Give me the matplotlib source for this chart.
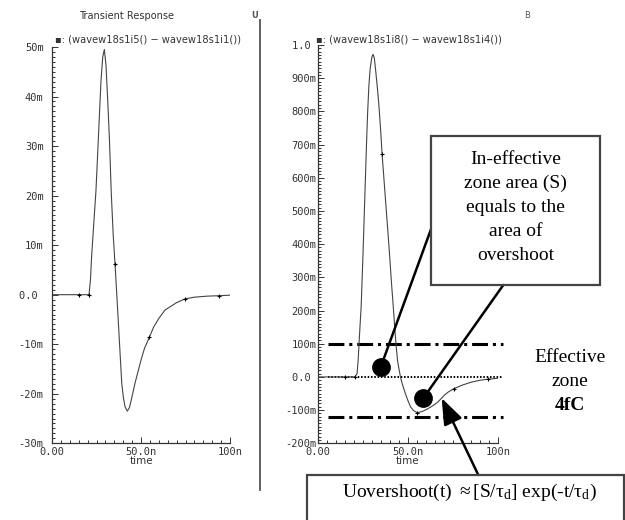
import matplotlib.pyplot as plt
import matplotlib.transforms as mtransforms
import numpy as np
from matplotlib.patches import Rectangle
from matplotlib.lines import Line2D
from matplotlib.ticker import MultipleLocator

# values: time in ns, signal in milli-units
left_t = [0, 15, 20.8, 21.6, 22.3, 23.4, 24.7, 25.6, 26.6, 27.5, 28.5, 29.4, 30.3, 31.3,
          32.3, 33.3, 34.4, 35.4, 36.4, 37.5, 38.5, 39.2, 40, 41, 42.3, 43.5, 44.5,
          45.5, 46.6, 50, 52, 54.7, 57, 60, 63.5, 70, 74.7, 80, 87, 94, 100]
left_v = [0, 0, 0, 3, 8, 14, 21, 28, 36, 43, 48, 49.5, 46.5, 39.3,
          31, 20.5, 12, 6.2, 0, -7, -13.5, -17.9, -20.5, -22.6, -23.5, -22.8, -21.3,
          -19.7, -17.9, -13.2, -10.8, -8.6, -6.6, -4.8, -3.1, -1.6, -0.85, -0.5, -0.3, -0.2, -0.1]

right_t = [0, 15, 20.5, 21.7, 22.3, 23, 24, 25, 26, 27, 27.6, 28.3, 29, 30, 30.6, 31.3,
           32, 33, 33.7, 34.6, 35.6, 37, 38, 39, 40, 40.7, 41.5, 42.5, 43.3, 44.3, 45.8,
           46.5, 47.5, 48.6, 50, 51.4, 53, 55.1, 58, 61, 64, 66.3, 68.7, 70, 72.5, 75.3,
           80, 85, 90, 94.2, 100]
right_v = [0, 0, 0, 10, 50, 120, 215, 370, 540, 710, 800, 880, 930, 965, 972, 960,
           925, 870, 827, 760, 672, 570, 497, 425, 350, 292, 235, 160, 100, 45, 0,
           -15, -33, -51, -72, -90, -101, -108, -104, -96, -86, -77, -64, -56, -45, -36,
           -25, -16, -10, -7, -4]

left_marks = [15, 20.8, 35.4, 54.7, 74.7, 94]
right_marks = [15, 20.5, 35.6, 55.1, 75.3, 94.2]

x_ticks = [0, 50, 100]
x_labels = ["0.00", "50.0n", "100n"]
left_yticks = [-30, -20, -10, 0, 10, 20, 30, 40, 50]
left_ylabels = ["-30m", "-20m", "-10m", "0.0 ", "10m", "20m", "30m", "40m", "50m"]
right_yticks = [-200, -100, 0, 100, 200, 300, 400, 500, 600, 700, 800, 900, 1000]
right_ylabels = ["-200m", "-100m", "0.0 ", "100m", "200m", "300m", "400m", "500m",
                 "600m", "700m", "800m", "900m", "1.0 "]

zone_levels = [100, -122]
circle_t = [34.8, 58.5]
circle_v = [29, -64]
arrow_tip = (68.7, -64)

box_lines = ["In-effective", "zone area (S)", "equals to the", "area of", "overshoot"]
zone_lines = ["Effective", "zone", "4fC"]

plt.rcParams['mathtext.fontset'] = 'custom'
plt.rcParams['mathtext.rm'] = 'Liberation Serif'
plt.rcParams['mathtext.it'] = 'Liberation Serif:italic'

W, H = 625, 520
fig = plt.figure(figsize=(W / 100, H / 100), dpi=100)


def fp(x, y):
    # pixel position -> figure fraction
    return (x / W, 1 - y / H)


mono = 'DejaVu Sans Mono'
gray = '#333333'
lift = mtransforms.ScaledTranslation(0, 3 / 100, fig.dpi_scale_trans)


def style_axes(ax, yticks, ylabels, yminor, ypad):
    ax.set_facecolor('none')
    for s in ['top', 'right']:
        ax.spines[s].set_visible(False)
    for s in ['left', 'bottom']:
        ax.spines[s].set_color(gray)
        ax.spines[s].set_linewidth(0.9)
    ax.set_xlim(0, 100)
    ax.set_ylim(yticks[0], yticks[-1])
    ax.set_xticks(x_ticks)
    ax.set_xticklabels(x_labels, fontfamily=mono, fontsize=7.5, color=gray)
    ax.set_yticks(yticks)
    ax.set_yticklabels(ylabels, fontfamily=mono, fontsize=7.5, color=gray)
    for lab in ax.get_yticklabels():
        lab.set_transform(lab.get_transform() + lift)
    ax.xaxis.set_minor_locator(MultipleLocator(5))
    ax.yaxis.set_minor_locator(MultipleLocator(yminor))
    ax.tick_params(which='both', direction='in', color=gray, width=0.7)
    ax.tick_params(which='major', length=4)
    ax.tick_params(which='minor', length=2)
    ax.tick_params(axis='x', pad=3)
    ax.tick_params(axis='y', pad=ypad)
    ax.set_xlabel("time", fontsize=7.5, color=gray, labelpad=-1)


axL = fig.add_axes([52 / W, 1 - 443.3 / H, 178 / W, (443.3 - 47) / H])
axR = fig.add_axes([318 / W, 1 - 443.3 / H, 180 / W, (443.3 - 45) / H])

style_axes(axL, left_yticks, left_ylabels, 1, 6)
style_axes(axR, right_yticks, right_ylabels, 10, 1)

idxL = [left_t.index(m) for m in left_marks]
idxR = [right_t.index(m) for m in right_marks]
axL.plot(left_t, left_v, color='#444444', lw=0.8, marker='+', ms=3.5, mew=0.8,
         mec='black', markevery=idxL)
axR.plot(right_t, right_v, color='#444444', lw=0.8, marker='+', ms=3.5, mew=0.8,
         mec='black', markevery=idxR, zorder=3)

# threshold lines of the effective zone
for lvl in zone_levels:
    axR.plot([5.4, 103], [lvl, lvl], color='black', lw=2.2, clip_on=False,
             dashes=(5.2, 1.6, 1.0, 1.6), solid_capstyle='butt', dash_capstyle='butt')
axR.plot([5.4, 102], [0, 0], color='black', lw=1.4, clip_on=False, dashes=(0.8, 0.9))

axR.plot(circle_t, circle_v, 'o', color='black', ms=12.5, clip_on=False, zorder=5)

# titles / legends
fig.text(*fp(126.5, 16), "Transient Response", fontsize=7, color=gray, ha='center', va='center')
fig.text(*fp(55, 39), "\u25aa: (wavew18s1i5() \u2212 wavew18s1i1())", fontsize=7.1,
         color=gray, va='center')
fig.text(*fp(316, 39), "\u25aa: (wavew18s1i8() \u2212 wavew18s1i4())", fontsize=7.1,
         color=gray, va='center')
fig.text(*fp(255, 16), "U", fontsize=6, color='#555555', ha='center', va='center',
         fontweight='bold')
fig.text(*fp(527, 16), "B", fontsize=6, color='#555555', ha='center', va='center')

# divider between the two panels
fig.add_artist(Line2D([260 / W, 260 / W], [1 - 20 / H, 1 - 490 / H], color='#555555', lw=1.3))

# callout box
fig.add_artist(Rectangle(fp(430.7, 285), (600 - 430.7) / W, (285 - 135.7) / H,
                         fill=False, ec='#444444', lw=1.6))
for i, s in enumerate(box_lines):
    fig.text(*fp(515.5, 159 + i * 24.2), s, family='Liberation Serif', fontsize=14,
             ha='center', va='center')

for i, s in enumerate(zone_lines):
    fig.text(*fp(570, 357 + i * 24.2), s, family='Liberation Serif', fontsize=14,
             ha='center', va='center', fontweight='bold' if s == "4fC" else 'normal')

# pointers from the circles to the box
for ct, cv, bx, by in [(circle_t[0], circle_v[0], 430.7, 230), (circle_t[1], circle_v[1], 503.3, 285)]:
    axR.annotate('', xy=(ct, cv), xycoords='data', xytext=fp(bx, by),
                 textcoords='figure fraction',
                 arrowprops=dict(arrowstyle='-', color='black', lw=1.8,
                                 shrinkA=0, shrinkB=0))

# formula box
fig.add_artist(Rectangle(fp(306.7, 530), (624 - 306.7) / W, (530 - 475) / H,
                         fill=False, ec='#444444', lw=1.6, clip_on=False))
fig.text(*fp(469.5, 492), r"Uovershoot(t) $\approx$[S/$\mathrm{\tau_d}$] exp(-t/$\mathrm{\tau_d}$)",
         family='Liberation Serif', fontsize=14, ha='center', va='center')

axR.annotate('', xy=arrow_tip, xycoords='data', xytext=fp(478.3, 475),
             textcoords='figure fraction',
             arrowprops=dict(arrowstyle='-|>,head_length=1.6,head_width=0.6',
                             color='black', lw=1.8, shrinkA=0, shrinkB=0))

fig.savefig("out.png", dpi=100)
